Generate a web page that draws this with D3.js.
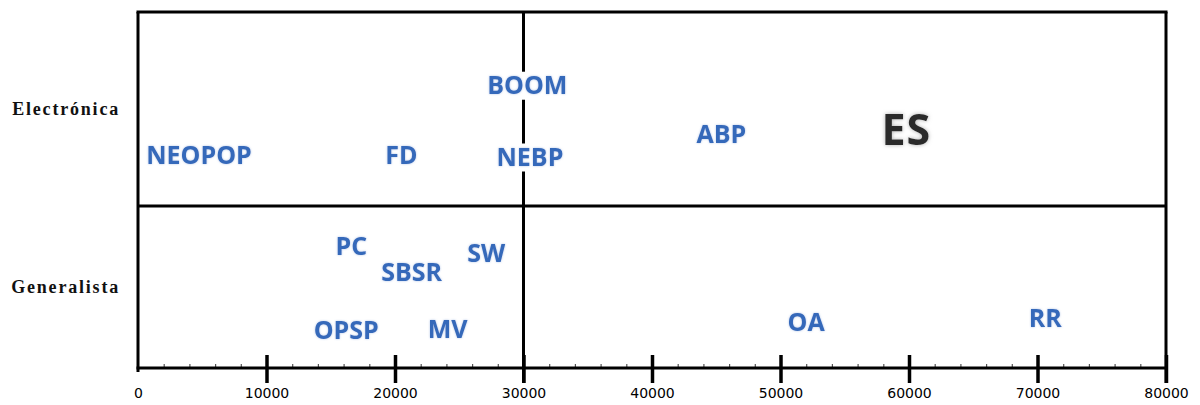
<!DOCTYPE html>
<html>
<head>
<meta charset="utf-8">
<script src="https://cdn.jsdelivr.net/npm/d3@7"></script>
<style>
  body { margin: 0; background: #fff; }
  .item { font-family: "Open Sans", sans-serif; font-weight: 700; }
</style>
</head>
<body>
<div id="chart"></div>
<script>
// categories (rows) and the band positions
const categories = ["Generalista", "Electrónica"];
const categoryPos = [0.5, 1.5];

// items: name, x value, y position (0..1 Generalista, 1..2 Electrónica)
const names   = ["NEOPOP", "FD", "BOOM", "NEBP", "ABP", "ES", "PC", "SBSR", "SW", "OPSP", "MV", "OA", "RR"];
const xValues = [4750, 20500, 30300, 30500, 45400, 59800, 16600, 21300, 27100, 16200, 24100, 52000, 70600];
const yValues = [1.26, 1.26, 1.62, 1.25, 1.37, 1.39, 0.75, 0.59, 0.71, 0.235, 0.24, 0.28, 0.31];

const majorTicks = [0, 10000, 20000, 30000, 40000, 50000, 60000, 70000, 80000];
const minorTicks = d3.range(0, 80001, 2000).filter(d => d % 10000 != 0);

const width = 1200, height = 405;
let x = d3.scaleLinear().domain([0, 80000]).range([138, 1166]);
let y = d3.scaleLinear().domain([0, 1, 2]).range([368, 206, 12]);

let svg = d3.select("#chart").append("svg")
    .attr("width", width)
    .attr("height", height);

let defs = svg.append("defs");
let glow = defs.append("filter").attr("id", "glow")
    .attr("x", "-20%").attr("y", "-30%").attr("width", "140%").attr("height", "160%");
glow.append("feGaussianBlur").attr("in", "SourceAlpha").attr("stdDeviation", 1.2).attr("result", "b");
glow.append("feFlood").attr("flood-color", "#7f9fd6").attr("flood-opacity", 0.6);
glow.append("feComposite").attr("in2", "b").attr("operator", "in").attr("result", "g");
let m = glow.append("feMerge");
m.append("feMergeNode").attr("in", "g");
m.append("feMergeNode").attr("in", "SourceGraphic");

let glowEs = defs.append("filter").attr("id", "glowEs")
    .attr("x", "-20%").attr("y", "-30%").attr("width", "140%").attr("height", "160%");
glowEs.append("feGaussianBlur").attr("in", "SourceAlpha").attr("stdDeviation", 2).attr("result", "b");
glowEs.append("feFlood").attr("flood-color", "#999").attr("flood-opacity", 0.8);
glowEs.append("feComposite").attr("in2", "b").attr("operator", "in").attr("result", "g");
let m2 = glowEs.append("feMerge");
m2.append("feMergeNode").attr("in", "g");
m2.append("feMergeNode").attr("in", "SourceGraphic");

// minor ticks
let minorAxis = d3.axisBottom(x).tickValues(minorTicks).tickSize(-4).tickFormat("");
svg.append("g")
    .attr("transform", "translate(0," + y(0) + ")")
    .call(minorAxis)
    .call(g => g.select(".domain").remove())
    .call(g => g.selectAll("line").attr("stroke", "#555").attr("stroke-width", 1.2));

// major ticks
let majorAxis = d3.axisBottom(x).tickValues(majorTicks).tickSize(15).tickPadding(6).tickFormat(d3.format("d"));
let ax = svg.append("g")
    .attr("transform", "translate(0," + y(0) + ")")
    .call(majorAxis);
ax.select(".domain").remove();
ax.selectAll("line")
    .attr("y1", -13)
    .attr("stroke", "#000")
    .attr("stroke-width", 3.5);
ax.selectAll(".tick").filter(d => d == 0).select("line").remove();
ax.selectAll("text")
    .attr("font-family", "DejaVu Sans, sans-serif")
    .attr("font-size", 14)
    .attr("fill", "#000")
    .attr("y", 20);

// frame and quadrant lines
let lines = svg.append("g").attr("stroke", "#000").attr("stroke-width", 3).attr("fill", "none");
lines.append("line").attr("x1", x(0) - 1.5).attr("x2", x(80000) + 1.5).attr("y1", y(2)).attr("y2", y(2));
lines.append("line").attr("x1", x(0)).attr("x2", x(80000)).attr("y1", y(1)).attr("y2", y(1));
lines.append("line").attr("x1", x(0) - 1.5).attr("x2", x(80000) + 1.5).attr("y1", y(0)).attr("y2", y(0));
lines.append("line").attr("x1", x(0)).attr("x2", x(0)).attr("y1", y(2)).attr("y2", y(0) + 4);
lines.append("line").attr("x1", x(80000)).attr("x2", x(80000)).attr("y1", y(2)).attr("y2", y(0) + 15);
lines.append("line").attr("x1", x(30000)).attr("x2", x(30000)).attr("y1", y(2)).attr("y2", y(0) + 15);

// row labels
svg.append("g").selectAll("text")
    .data(categories)
    .join("text")
    .attr("x", 120)
    .attr("y", (d, i) => y(categoryPos[i]))
    .attr("dy", "0.35em")
    .attr("text-anchor", "end")
    .attr("font-family", "Liberation Serif, serif")
    .attr("font-weight", "bold")
    .attr("font-size", 18)
    .attr("letter-spacing", 1.8)
    .attr("fill", "#111")
    .text(d => d);

// item labels, each on a white text box
let items = names.map((n, i) => ({ name: n, x: xValues[i], y: yValues[i] }));
let labels = svg.append("g").selectAll("g")
    .data(items)
    .join("g")
    .attr("transform", d => "translate(" + x(d.x) + "," + y(d.y) + ")");

let boxes = labels.append("rect").attr("fill", "#fff");

labels.append("text")
    .attr("class", "item")
    .attr("dy", "0.35em")
    .attr("text-anchor", "middle")
    .attr("font-size", d => d.name == "ES" ? 43 : 25)
    .attr("font-weight", d => d.name == "ES" ? 600 : 700)
    .attr("letter-spacing", d => d.name == "ES" ? 1 : 0)
    .attr("fill", d => d.name == "ES" ? "#2a2a2a" : "#3569ba")
    .attr("filter", d => d.name == "ES" ? "url(#glowEs)" : "url(#glow)")
    .text(d => d.name);

labels.each(function () {
    let g = d3.select(this);
    let b = g.select("text").node().getBBox();
    g.select("rect")
        .attr("x", b.x - 4)
        .attr("y", -14)
        .attr("width", b.width + 8)
        .attr("height", 28);
});
</script>
</body>
</html>
